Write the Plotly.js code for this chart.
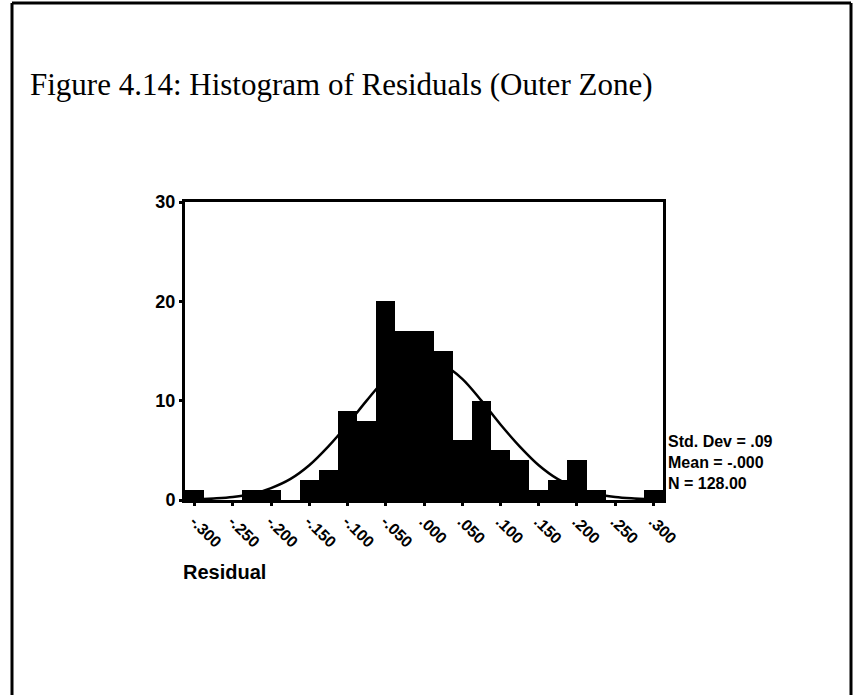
<!DOCTYPE html>
<html>
<head>
<meta charset="utf-8">
<script src="https://cdn.plot.ly/plotly-3.0.1.min.js"></script>
<style>
html,body{margin:0;padding:0;background:#fff;}
#chart{width:855px;height:695px;}
</style>
</head>
<body>
<div id="chart"></div>
<script>
// Bin centres of the residual histogram (bin width .025)
const binCenters = [-0.300,-0.275,-0.250,-0.225,-0.200,-0.175,-0.150,-0.125,-0.100,-0.075,-0.050,-0.025,0.000,
                    0.025,0.050,0.075,0.100,0.125,0.150,0.175,0.200,0.225,0.250,0.275,0.300];
// Frequencies (sum = 128)
const counts = [1,0,0,1,1,0,2,3,9,8,20,17,17,15,6,10,5,4,1,2,4,1,0,0,1];
// Fitted normal curve
const curveX = [-0.3125,-0.300,-0.275,-0.250,-0.225,-0.200,-0.175,-0.150,-0.125,-0.100,-0.075,-0.050,-0.025,0.000,
                0.025,0.050,0.075,0.100,0.125,0.150,0.175,0.200,0.225,0.250,0.275,0.300,0.3125];
const curveY = [0.03,0.05,0.15,0.3,0.6,1.2,2.1,3.5,5.4,7.6,10.0,12.2,13.6,14.1,
                13.6,12.2,10.0,7.6,5.4,3.5,2.1,1.2,0.6,0.3,0.15,0.05,0.03];
// Axis ticks
const xTickVals = [-0.30,-0.25,-0.20,-0.15,-0.10,-0.05,0.00,0.05,0.10,0.15,0.20,0.25,0.30];
const xTickText = ["-.300","-.250","-.200","-.150","-.100","-.050",".000",".050",".100",".150",".200",".250",".300"];
const yTickVals = [0,10,20,30];
const yTickText = ["0","10","20","30"];
// Texts
const titleText = "Figure 4.14: Histogram of Residuals (Outer Zone)";
const xTitle = "Residual";
const statsLines = ["Std. Dev = .09","Mean = -.000","N = 128.00"];

const W = 855, H = 695;
const L = 185, R = 663, T = 202, B = 500;
const px = v => (v - L) / (R - L);
const py = v => (B - v) / (B - T);

const sans = "Liberation Sans, Arial, sans-serif";
const serif = "Liberation Serif, Times New Roman, serif";

const traces = [
  {
    type: "bar",
    x: binCenters,
    y: counts,
    width: 0.025,
    marker: {color: "#000", line: {width: 0}},
    hoverinfo: "skip"
  },
  {
    type: "scatter",
    mode: "lines",
    x: curveX,
    y: curveY,
    line: {color: "#000", width: 2.5, shape: "spline"},
    hoverinfo: "skip"
  }
];

const statAnn = statsLines.map((t, i) => ({
  xref: "paper", yref: "paper",
  x: px(666), y: py([441, 462, 483][i]),
  xanchor: "left", yanchor: "middle",
  text: t, showarrow: false,
  font: {family: sans, size: 16, color: "#000", weight: "bold"}
}));

const layout = {
  width: W, height: H,
  margin: {l: L, r: W - R, t: T, b: H - B, pad: 0},
  paper_bgcolor: "#fff",
  plot_bgcolor: "#fff",
  showlegend: false,
  bargap: 0,
  title: {
    text: titleText,
    xref: "container", yref: "container",
    x: 30 / W, xanchor: "left",
    y: 1 - 84 / H, yanchor: "middle",
    font: {family: serif, size: 31, color: "#000"}
  },
  xaxis: {
    range: [-0.3125, 0.3125],
    tickvals: xTickVals,
    ticktext: xTickText,
    tickangle: 45,
    ticks: "outside", ticklen: 3, tickwidth: 3, tickcolor: "#000",
    tickfont: {family: sans, size: 16, color: "#000", weight: "bold"},
    showline: true, linecolor: "#000", linewidth: 3, mirror: true,
    showgrid: false, zeroline: false, automargin: false, fixedrange: true
  },
  yaxis: {
    range: [0, 30],
    tickvals: yTickVals,
    ticktext: yTickText,
    ticks: "outside", ticklen: 3, tickwidth: 3, tickcolor: "#000",
    tickfont: {family: sans, size: 18, color: "#000", weight: "bold"},
    showline: true, linecolor: "#000", linewidth: 3, mirror: true,
    showgrid: false, zeroline: false, automargin: false, fixedrange: true
  },
  annotations: [
    {
      xref: "paper", yref: "paper",
      x: px(181), y: py(572),
      xanchor: "left", yanchor: "middle",
      text: xTitle, showarrow: false,
      font: {family: sans, size: 20, color: "#000", weight: "bold"}
    }
  ].concat(statAnn),
  shapes: [
    {type: "line", xref: "paper", yref: "paper", x0: px(12), x1: px(12), y0: py(3), y1: py(H + 10), line: {color: "#000", width: 3}},
    {type: "line", xref: "paper", yref: "paper", x0: px(12), x1: px(851), y0: py(3), y1: py(3), line: {color: "#000", width: 3}},
    {type: "line", xref: "paper", yref: "paper", x0: px(851), x1: px(851), y0: py(3), y1: py(H + 10), line: {color: "#000", width: 3}}
  ]
};

Plotly.newPlot("chart", traces, layout, {displayModeBar: false, staticPlot: true});
</script>
</body>
</html>
